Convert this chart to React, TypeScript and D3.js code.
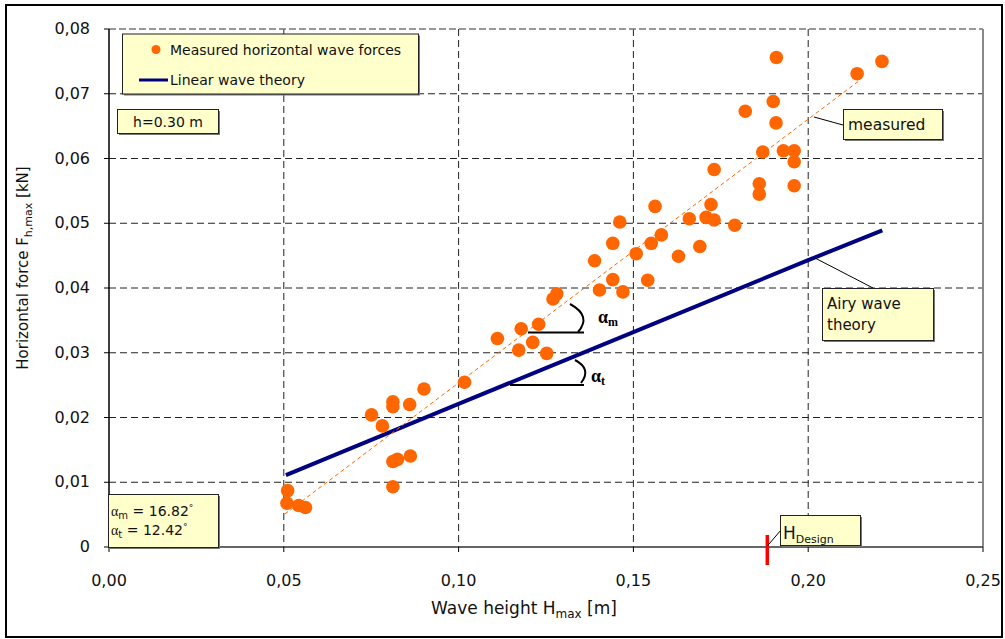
import React from "react";
import * as d3 from "d3";

const measuredH = [0.0511, 0.0509, 0.0543, 0.0562, 0.0751, 0.0782, 0.0812, 0.0812, 0.0860, 0.0901, 0.0812, 0.0825, 0.0862, 0.0812, 0.1017,
  0.1111, 0.1172, 0.1179, 0.1212, 0.1229, 0.1252, 0.1270, 0.1281, 0.1389, 0.1403, 0.1441, 0.1441, 0.1461, 0.1470, 0.1508, 0.1541, 0.1551, 0.1562, 0.1580,
  0.1629, 0.1660, 0.1690, 0.1708, 0.1722, 0.1731, 0.1731, 0.1790, 0.1820, 0.1860, 0.1860, 0.1870, 0.1900, 0.1908, 0.1909, 0.1929, 0.1960, 0.1960, 0.1960, 0.2140, 0.2211];
const measuredF = [0.0087, 0.00675, 0.0064, 0.0061, 0.0204, 0.0187, 0.02244, 0.02167, 0.0220, 0.0244, 0.0132, 0.01354, 0.01405, 0.0093, 0.02544,
  0.0322, 0.0304, 0.0337, 0.0316, 0.0344, 0.0299, 0.0383, 0.0391, 0.0442, 0.0397, 0.0413, 0.0469, 0.0502, 0.0394, 0.0453, 0.0412, 0.0469, 0.0526, 0.0482,
  0.0449, 0.0507, 0.0464, 0.0509, 0.0529, 0.0505, 0.0583, 0.0497, 0.0673, 0.0561, 0.0545, 0.0610, 0.0688, 0.0655, 0.0756, 0.0612, 0.0612, 0.0595, 0.0558, 0.0731, 0.0750];

const trendH = [0.0503, 0.2143];
const trendF = [0.0051, 0.0719];

const airyH = [0.0506, 0.1000, 0.1500, 0.2000, 0.2212];
const airyF = [0.0111, 0.0221, 0.0332, 0.0443, 0.0489];

const xTicks = [0, 0.05, 0.1, 0.15, 0.2, 0.25];
const yTicks = [0, 0.01, 0.02, 0.03, 0.04, 0.05, 0.06, 0.07, 0.08];
const designH = 0.1883;

const FONT = "DejaVu Sans, sans-serif";
const ORANGE = "#FF6600";
const NAVY = "#000080";
const BOXFILL = "#FFFFCC";

export default function App() {
  const x = d3.scaleLinear().domain([0, 0.25]).range([109, 983]);
  const y = d3.scaleLinear().domain([0, 0.08]).range([547, 29]);
  const line = d3.line<[number, number]>().x(d => x(d[0])).y(d => y(d[1]));
  const airy: [number, number][] = airyH.map((h, i) => [h, airyF[i]]);
  const trend: [number, number][] = trendH.map((h, i) => [h, trendF[i]]);
  const fmtX = (v: number) => v.toFixed(2).replace(".", ",");
  const fmtY = (v: number) => (v === 0 ? "0" : v.toFixed(2).replace(".", ","));

  const Box = ({ x0, y0, w, h }: { x0: number; y0: number; w: number; h: number }) => (
    <g>
      <rect x={x0 + 1.5} y={y0 + 1.5} width={w} height={h} fill="#777" />
      <rect x={x0} y={y0} width={w} height={h} fill={BOXFILL} stroke="#222" strokeWidth={1} />
    </g>
  );

  return (
    <svg width={1005} height={639} style={{ position: "absolute", left: 0, top: 0 }} fontFamily={FONT}>
      <rect x={0} y={0} width={1005} height={639} fill="white" />
      <rect x={6} y={5} width={996} height={632} fill="none" stroke="black" strokeWidth={2} />

      {/* grid */}
      {xTicks.slice(1, 5).map(t => (
        <line key={"gx" + t} x1={x(t)} x2={x(t)} y1={y(0.08)} y2={y(0)} stroke="#222" strokeWidth={1} strokeDasharray="7,4" />
      ))}
      {yTicks.slice(1, 8).map(t => (
        <line key={"gy" + t} x1={x(0)} x2={x(0.25)} y1={y(t)} y2={y(t)} stroke="#222" strokeWidth={1} strokeDasharray="7,4" />
      ))}
      <line x1={x(0)} x2={x(0.25)} y1={y(0.08)} y2={y(0.08)} stroke="#777" strokeWidth={1.5} strokeDasharray="7,3" />
      <line x1={x(0.25)} x2={x(0.25)} y1={y(0.08)} y2={y(0)} stroke="#888" strokeWidth={2} />

      {/* axes */}
      <line x1={x(0)} x2={x(0)} y1={y(0.08)} y2={y(0)} stroke="black" strokeWidth={1.5} />
      <line x1={x(0)} x2={x(0.25)} y1={y(0)} y2={y(0)} stroke="#333" strokeWidth={1.5} />
      {yTicks.map(t => (
        <g key={"ty" + t}>
          <line x1={x(0) - 5} x2={x(0)} y1={y(t)} y2={y(t)} stroke="black" />
          <text x={90} y={y(t) + 5} textAnchor="end" fontSize={16} fill="#111">{fmtY(t)}</text>
        </g>
      ))}
      {xTicks.map(t => (
        <g key={"tx" + t}>
          <line x1={x(t)} x2={x(t)} y1={y(0)} y2={y(0) + 5} stroke="black" />
          <text x={x(t)} y={586} textAnchor="middle" fontSize={16} fill="#111">{fmtX(t)}</text>
        </g>
      ))}

      {/* axis titles */}
      <text x={524} y={614} textAnchor="middle" fontSize={17} fill="#111">
        Wave height H<tspan fontSize={12} dy={4}>max</tspan><tspan dy={-4}> [m]</tspan>
      </text>
      <text transform="translate(28,268) rotate(-90)" textAnchor="middle" fontSize={15} fill="#111">
        Horizontal force F<tspan fontSize={11} dy={4}>h,max</tspan><tspan dy={-4}> [kN]</tspan>
      </text>

      {/* lines */}
      <path d={line(airy) || ""} fill="none" stroke={NAVY} strokeWidth={4} />
      <path d={line(trend) || ""} fill="none" stroke={ORANGE} strokeWidth={1} strokeDasharray="4,3" />

      {/* points */}
      {measuredH.map((h, i) => (
        <circle key={"p" + i} cx={x(h)} cy={y(measuredF[i])} r={6.8} fill={ORANGE} />
      ))}

      {/* angle annotations */}
      <line x1={528} x2={584} y1={332.5} y2={332.5} stroke="black" strokeWidth={2} />
      <path d="M570,304 Q592,316 578,332" fill="none" stroke="black" strokeWidth={2} />
      <text x={598} y={323} fontFamily="Liberation Serif, serif" fontWeight="bold" fontSize={18}>
        α<tspan fontSize={12} dy={3}>m</tspan>
      </text>
      <line x1={510} x2={584} y1={385} y2={385} stroke="black" strokeWidth={2} />
      <path d="M575,360 Q592,369 581,383" fill="none" stroke="black" strokeWidth={2} />
      <text x={591} y={382} fontFamily="Liberation Serif, serif" fontWeight="bold" fontSize={18}>
        α<tspan fontSize={12} dy={3}>t</tspan>
      </text>

      {/* legend */}
      <Box x0={122.5} y0={34} w={296} h={60} />
      <circle cx={156} cy={49.5} r={4.5} fill={ORANGE} />
      <text x={170} y={54.5} fontSize={14} fill="#111">Measured horizontal wave forces</text>
      <line x1={139} x2={168} y1={80} y2={80} stroke={NAVY} strokeWidth={3} />
      <text x={170} y={85} fontSize={14} fill="#111">Linear wave theory</text>

      {/* h box */}
      <Box x0={117.5} y0={109.5} w={101} h={24} />
      <text x={168} y={126.5} textAnchor="middle" fontSize={14} fill="#111">h=0.30 m</text>

      {/* alpha box */}
      <Box x0={108.5} y0={494.5} w={110} h={53} />
      <text x={111} y={516} fontSize={14} fill="#111">
        <tspan fontFamily="Liberation Serif, serif">α</tspan><tspan fontSize={10} dy={3}>m</tspan><tspan dy={-3}> = 16.82</tspan><tspan fontSize={9} dy={-5}>°</tspan>
      </text>
      <text x={111} y={535} fontSize={14} fill="#111">
        <tspan fontFamily="Liberation Serif, serif">α</tspan><tspan fontSize={10} dy={3}>t</tspan><tspan dy={-3}> = 12.42</tspan><tspan fontSize={9} dy={-5}>°</tspan>
      </text>

      {/* measured label */}
      <line x1={814} y1={117} x2={843} y2={125} stroke="black" strokeWidth={1} />
      <Box x0={843.5} y0={109.5} w={99} h={30} />
      <text x={848} y={130} fontSize={15.5} fill="#111">measured</text>

      {/* Airy label */}
      <line x1={815} y1={258} x2={873} y2={288} stroke="black" strokeWidth={1} />
      <Box x0={822.5} y0={288.5} w={111} h={52} />
      <text x={827} y={309} fontSize={15} fill="#111">Airy wave</text>
      <text x={827} y={330} fontSize={15} fill="#111">theory</text>

      {/* H design */}
      <line x1={x(designH)} x2={x(designH)} y1={535} y2={565} stroke="#FF0000" strokeWidth={3.5} />
      <line x1={x(designH)} y1={546} x2={781} y2={530} stroke="black" strokeWidth={1} />
      <Box x0={780.5} y0={515.5} w={80} h={30} />
      <text x={783} y={539} fontSize={17} fill="#111">
        H<tspan fontSize={11} dy={4}>Design</tspan>
      </text>
    </svg>
  );
}
